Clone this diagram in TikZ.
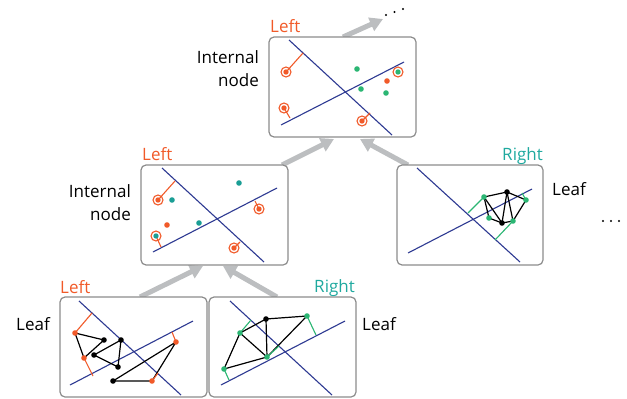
\documentclass[tikz,border=0pt]{standalone}
\usepackage{fontspec}
\setmainfont{Open Sans}
\usetikzlibrary{arrows.meta}
\definecolor{orangeC}{HTML}{F15A29}
\definecolor{tealC}{HTML}{1FA99F}
\definecolor{tealdot}{HTML}{1A9E95}
\definecolor{greenC}{HTML}{2BB673}
\definecolor{blueC}{HTML}{2E3A92}
\definecolor{arrowgray}{HTML}{BCBEC0}
\definecolor{boxgray}{HTML}{8C8C8C}
\newcommand\ringpt[2]{\fill[#2] (#1) circle (2.7); \draw[orangeC, line width=1.1pt] (#1) circle (5);}
\newcommand\dotpt[2]{\fill[#2] (#1) circle (2.8);}
\begin{document}
\begin{tikzpicture}[x=1pt,y=-1pt,
  box/.style={draw=boxgray, line width=1.2pt, rounded corners=5pt, fill=white, inner sep=0pt, minimum height=100pt},
  sep/.style={draw=blueC, line width=1.1pt},
  edge/.style={draw=black, line width=1.2pt},
  olink/.style={draw=orangeC, line width=1.1pt},
  glink/.style={draw=greenC, line width=1.1pt},
  flow/.style={draw=arrowgray, line width=5pt, -{Triangle[length=13pt,width=14pt]}},
  lbl/.style={font=\fontsize{17}{23}\selectfont, inner sep=0pt}]
\useasboundingbox (0,0) rectangle (627,399);

% arrow end points
\coordinate (a1s) at (140,297); \coordinate (a1e) at (203,266);
\coordinate (a2s) at (277,297); \coordinate (a2e) at (223,266);
\coordinate (a3s) at (282,165); \coordinate (a3e) at (334,139);
\coordinate (a4s) at (408,165); \coordinate (a4e) at (360,139);
\coordinate (a5s) at (343,37);  \coordinate (a5e) at (383,19);
\draw[flow] (a1s) -- (a1e);
\draw[flow] (a2s) -- (a2e);
\draw[flow] (a3s) -- (a3e);
\draw[flow] (a4s) -- (a4e);
\draw[flow] (a5s) -- (a5e);

% boxes
\node[box, minimum width=147pt] (top) at (342.5,87) {};
\node[box, minimum width=147pt] (mid) at (214.5,215) {};
\node[box, minimum width=146pt] (rleaf) at (470,215) {};
\node[box, minimum width=147pt] (bl) at (133.5,347) {};
\node[box, minimum width=147pt] (br) at (282.5,347) {};

% labels
\node[lbl, text=orangeC, anchor=base west] (tleft) at (270,32) {Left};
\node[lbl, align=right, anchor=east] (tint) at (259,69) {Internal\\node};
\node[lbl, text=orangeC, anchor=base west] (mleft) at (142,160) {Left};
\node[lbl, align=right, anchor=east] (mint) at (131,203) {Internal\\node};
\node[lbl, text=tealC, anchor=base east] (rright) at (543,160) {Right};
\node[lbl, anchor=base west] (rleaflbl) at (552,195) {Leaf};
\node[lbl, text=orangeC, anchor=base west] (blleft) at (60,293) {Left};
\node[lbl, anchor=base west] (blleaf) at (16,330) {Leaf};
\node[lbl, text=tealC, anchor=base east] (brright) at (355,292) {Right};
\node[lbl, anchor=base west] (brleaf) at (362,330) {Leaf};

% ellipses
\foreach \p in {(603,221),(611,221),(619,221),(386,15),(394.5,12),(403,9)} \fill[black] \p circle (1.2);

% ---- top box
\draw[sep] (289,40) -- (392,135);
\draw[sep] (281,125) -- (404,62);
\draw[olink] (286,72) -- (303,53);
\draw[olink] (284,108) -- (290,118);
\draw[olink] (362,121) -- (370,113);
\ringpt{286,72}{orangeC}
\ringpt{284,108}{orangeC}
\ringpt{362,121}{orangeC}
\ringpt{398,72}{greenC}
\dotpt{357,69}{greenC}
\dotpt{361,89}{greenC}
\dotpt{386,93}{greenC}
\dotpt{387,81}{orangeC}

% ---- mid box
\draw[sep] (162,168) -- (264,262);
\draw[sep] (153,252) -- (277,188);
\draw[olink] (158,200) -- (175,181);
\draw[olink] (156,236) -- (161,247);
\draw[olink] (259,209) -- (255,201);
\draw[olink] (234,248) -- (240,242);
\ringpt{158,200}{orangeC}
\ringpt{156,236}{tealdot}
\ringpt{259,209}{orangeC}
\ringpt{234,248}{orangeC}
\dotpt{172,200}{tealdot}
\dotpt{239,183}{tealdot}
\dotpt{199,223}{tealdot}
\dotpt{167,225}{orangeC}

% ---- right leaf
\draw[sep] (417,168) -- (520,262);
\draw[sep] (408,253) -- (532,189);
\coordinate (rA) at (484,197); \coordinate (rE) at (507,192);
\coordinate (rB) at (526,200); \coordinate (rC) at (489,218);
\coordinate (rF) at (502,223); \coordinate (rD) at (513,221);
\coordinate (rAf) at (468,213); \coordinate (rDf) at (495,240); \coordinate (rBf) at (522,193);
\draw[edge] (rA) -- (rE) -- (rB) -- (rD) -- (rF) -- (rA);
\draw[edge] (rE) -- (rF);
\draw[edge] (rE) -- (rD);
\draw[edge] (rA) -- (rC) -- (rF);
\draw[glink] (rA) -- (rAf);
\draw[glink] (rD) -- (rDf);
\draw[glink] (rB) -- (rBf);
\dotpt{rA}{greenC} \dotpt{rB}{greenC} \dotpt{rC}{greenC} \dotpt{rD}{greenC}
\dotpt{rE}{black} \dotpt{rF}{black}

% ---- bottom-left leaf
\draw[sep] (79,301) -- (181,395);
\draw[sep] (70,385) -- (193,321);
\coordinate (P1) at (75,333); \coordinate (P2) at (84,358);
\coordinate (P3) at (176,342); \coordinate (P4) at (152,381);
\coordinate (Q1) at (104,340); \coordinate (Q2) at (121,340);
\coordinate (Q3) at (94,355); \coordinate (Q4) at (118,367); \coordinate (Q5) at (113,381);
\coordinate (P1f) at (92,313); \coordinate (P2f) at (93,376);
\coordinate (P3f) at (172,332); \coordinate (P4f) at (158,373);
\draw[edge] (P1) -- (Q1) -- (P2) -- cycle;
\draw[edge] (Q3) -- (Q2) -- (Q4) -- cycle;
\draw[edge] (Q5) -- (P4) -- (P3) -- cycle;
\draw[olink] (P1) -- (P1f);
\draw[olink] (P2) -- (P2f);
\draw[olink] (P3) -- (P3f);
\draw[olink] (P4) -- (P4f);
\dotpt{P1}{orangeC} \dotpt{P2}{orangeC} \dotpt{P3}{orangeC} \dotpt{P4}{orangeC}
\dotpt{Q1}{black} \dotpt{Q2}{black} \dotpt{Q3}{black} \dotpt{Q4}{black} \dotpt{Q5}{black}

% ---- bottom-right leaf
\draw[sep] (230,301) -- (332,395);
\draw[sep] (221,385) -- (345,321);
\coordinate (G1) at (240,333); \coordinate (K) at (266,319);
\coordinate (G2) at (307,316); \coordinate (G3) at (267,357); \coordinate (G4) at (224,369);
\coordinate (G1f) at (251,320); \coordinate (G2f) at (316,335);
\coordinate (G3f) at (279,346); \coordinate (G4f) at (229,380);
\draw[edge] (G1) -- (K) -- (G2) -- (G3) -- (G1);
\draw[edge] (K) -- (G3);
\draw[edge] (G4) -- (G1);
\draw[edge] (G4) -- (G3);
\draw[glink] (G1) -- (G1f);
\draw[glink] (G2) -- (G2f);
\draw[glink] (G3) -- (G3f);
\draw[glink] (G4) -- (G4f);
\dotpt{G1}{greenC} \dotpt{G2}{greenC} \dotpt{G3}{greenC} \dotpt{G4}{greenC}
\dotpt{K}{black}
\end{tikzpicture}
\end{document}
